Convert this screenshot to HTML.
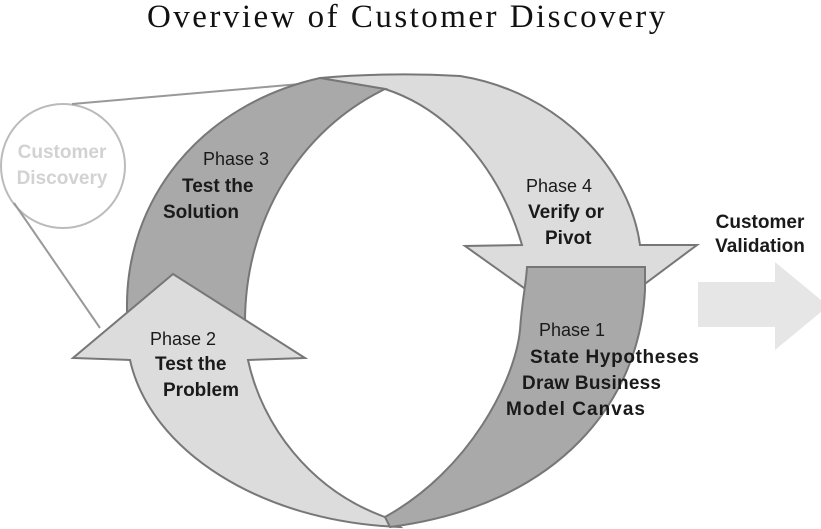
<!DOCTYPE html>
<html><head><meta charset="utf-8"><style>
html,body{margin:0;padding:0;background:#fff;}
svg{display:block;}
.t{font-family:"Liberation Sans",sans-serif;font-size:18px;fill:#1a1a1a;}
.b{font-weight:bold;font-size:19px;}
</style></head><body>
<svg width="821" height="529" viewBox="0 0 821 529" xmlns="http://www.w3.org/2000/svg">
<text x="407" y="27" text-anchor="middle" font-family="Liberation Serif,serif" font-size="33" letter-spacing="1.8" fill="#111" textLength="520">Overview of Customer Discovery</text>
<circle cx="63" cy="166" r="62" fill="#fff" stroke="#bbb" stroke-width="2"/>
<line x1="72" y1="104" x2="300" y2="84" stroke="#999" stroke-width="2"/>
<line x1="14" y1="203" x2="100" y2="328" stroke="#999" stroke-width="2"/>
<text class="t b" x="62" y="158" text-anchor="middle" style="fill:#d2d2d2">Customer</text>
<text class="t b" x="62" y="184" text-anchor="middle" style="fill:#d2d2d2">Discovery</text>
<path d="M320,78 Q390,72 460,76 C560,92 630,170 640,245 L697,245 L583,330 L465,246 L522,245 C500,170 450,110 385,89 Z" fill="#dcdcdc" stroke="#777" stroke-width="2"/>
<path d="M320,78 C200,105 125,200 127,310 L127,345 L245,345 L245,322 C245,220 300,130 385,89 Z" fill="#a9a9a9" stroke="#777" stroke-width="2"/>
<path d="M130,360 L73,358 L173,274 L305,358 L248,360 C262,425 310,490 385,517 L400,527 C260,522 150,450 130,360 Z" fill="#dcdcdc" stroke="#777" stroke-width="2"/>
<path d="M527,267 L645,267 L645,290 C640,400 560,505 390,527 L385,517 C470,470 515,380 520,330 C522,300 526,285 527,267 Z" fill="#a9a9a9" stroke="#777" stroke-width="2"/>
<path d="M698,282 L775,282 L775,262 L821,300 L821,312 L775,350 L775,327 L698,327 Z" fill="#e6e6e6"/>
<text class="t b" x="760" y="228" text-anchor="middle">Customer</text>
<text class="t b" x="760" y="252" text-anchor="middle">Validation</text>
<text class="t" x="203" y="165">Phase 3</text>
<text class="t b" x="182" y="192">Test the</text>
<text class="t b" x="163" y="218">Solution</text>
<text class="t" x="150" y="345">Phase 2</text>
<text class="t b" x="155" y="370">Test the</text>
<text class="t b" x="163" y="396">Problem</text>
<text class="t" x="526" y="192">Phase 4</text>
<text class="t b" x="528" y="218">Verify or</text>
<text class="t b" x="545" y="244">Pivot</text>
<text class="t" x="539" y="336">Phase 1</text>
<text class="t b" x="530" y="363" textLength="169">State Hypotheses</text>
<text class="t b" x="522" y="389" textLength="139">Draw Business</text>
<text class="t b" x="506" y="415" textLength="139">Model  Canvas</text>
</svg>
</body></html>
